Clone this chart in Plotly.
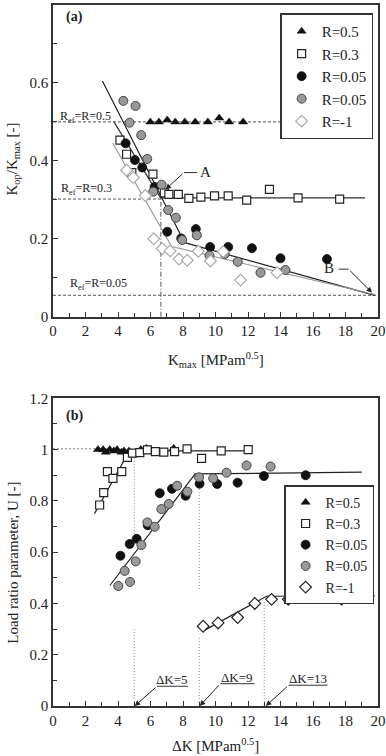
import plotly.graph_objects as go

# ---------------- data: panel (a) ----------------
a_r05_x = [5.99, 6.52, 7.03, 7.52, 8.11, 8.75, 9.53, 10.23, 10.84, 11.7]
a_r05_y = [0.50, 0.50, 0.505, 0.50, 0.50, 0.50, 0.50, 0.51, 0.50, 0.50]

a_r03_x = [4.12, 4.53, 4.85, 6.15, 6.85, 7.13, 7.71, 8.36, 9.10, 9.94, 10.78, 11.92, 13.32, 15.08, 17.64]
a_r03_y = [0.453, 0.417, 0.37, 0.366, 0.318, 0.314, 0.314, 0.304, 0.307, 0.31, 0.31, 0.299, 0.327, 0.305, 0.302]

a_r005b_x = [4.47, 5.04, 5.49, 6.25, 7.03, 7.89, 8.79, 9.67, 10.78, 12.24, 14.0, 16.86]
a_r005b_y = [0.445, 0.402, 0.383, 0.333, 0.218, 0.201, 0.225, 0.179, 0.179, 0.176, 0.150, 0.148]

a_r005g_x = [4.33, 4.71, 5.08, 5.43, 5.80, 6.17, 6.68, 7.09, 7.56, 7.95, 8.85, 9.63, 10.57, 11.37, 12.77, 14.3]
a_r005g_y = [0.554, 0.498, 0.541, 0.466, 0.405, 0.321, 0.339, 0.274, 0.254, 0.197, 0.209, 0.157, 0.161, 0.141, 0.113, 0.12]

a_rm1_x = [4.53, 4.94, 5.68, 6.20, 6.72, 7.21, 7.75, 8.26, 8.94, 9.69, 10.47, 11.54, 13.79]
a_rm1_y = [0.376, 0.357, 0.311, 0.200, 0.175, 0.169, 0.148, 0.145, 0.168, 0.143, 0.167, 0.094, 0.113]

# fitted lines (a)
a_fit_r03_x = [3.75, 6.62, 19.2]
a_fit_r03_y = [0.50, 0.305, 0.305]
a_fit_r005_x = [3.04, 8.1, 19.8]
a_fit_r005_y = [0.605, 0.19, 0.055]
a_fit_rm1_x = [3.67, 7.3, 19.8]
a_fit_rm1_y = [0.446, 0.18, 0.057]

# reference lines (a)
a_ref05_x = [0, 14.0]
a_ref05_y = [0.5, 0.5]
a_ref03_x = [0, 6.62]
a_ref03_y = [0.302, 0.302]
a_ref005_x = [0, 20]
a_ref005_y = [0.055, 0.055]
a_vert_x = [6.64, 6.64]
a_vert_y = [0, 0.325]

# ---------------- data: panel (b) ----------------
b_r05_x = [2.77, 3.08, 3.25, 3.49, 3.74, 3.94, 4.21, 4.37, 4.68, 5.40, 5.75, 7.43]
b_r05_y = [1.0, 1.0, 0.99, 1.0, 0.995, 1.0, 0.99, 0.995, 0.995, 1.0, 1.005, 1.005]

b_r03_x = [2.87, 3.12, 3.35, 3.69, 4.23, 4.58, 4.89, 5.34, 5.81, 6.30, 6.82, 7.48, 8.25, 9.14, 10.35, 12.01]
b_r03_y = [0.784, 0.832, 0.914, 0.888, 0.914, 0.97, 0.986, 0.988, 0.999, 0.992, 0.99, 0.992, 1.003, 0.966, 0.995, 1.0]

b_r005b_x = [4.15, 4.72, 5.15, 5.83, 6.57, 7.32, 8.16, 9.02, 10.1, 11.36, 12.98, 15.55]
b_r005b_y = [0.586, 0.632, 0.652, 0.705, 0.83, 0.847, 0.82, 0.867, 0.866, 0.871, 0.897, 0.90]

b_r005g_x = [4.02, 4.41, 4.74, 5.09, 5.44, 5.81, 6.26, 6.67, 7.12, 7.64, 8.27, 8.99, 9.86, 10.68, 11.91, 13.39]
b_r005g_y = [0.468, 0.527, 0.484, 0.564, 0.628, 0.716, 0.699, 0.768, 0.788, 0.859, 0.836, 0.892, 0.888, 0.91, 0.938, 0.934]

b_rm1_x = [9.24, 10.16, 11.36, 12.42, 13.45, 14.48, 15.44, 16.47, 17.76, 19.4]
b_rm1_y = [0.311, 0.324, 0.345, 0.40, 0.416, 0.416, 0.428, 0.43, 0.417, 0.43]

# fitted lines (b)
b_fit_r03_x = [2.55, 4.7, 11.9]
b_fit_r03_y = [0.75, 0.995, 0.995]
b_fit_r005_x = [3.5, 8.75, 19.0]
b_fit_r005_y = [0.47, 0.905, 0.912]
b_fit_rm1_x = [9.34, 13.14, 19.1]
b_fit_rm1_y = [0.296, 0.428, 0.43]

# reference lines (b)
b_ref1_x = [0, 2.7]
b_ref1_y = [1.003, 1.003]
b_v5a_y = [0.98, 0.655]
b_v5b_y = [0.30, 0.0]
b_v9a_y = [0.87, 0.455]
b_v9b_y = [0.265, 0.0]
b_v13_y = [0.405, 0.0]

SERIF = "Liberation Serif"
fig = go.Figure()

def line(x, y, xa, ya, color="#222", width=1.2, dash="solid"):
    fig.add_trace(go.Scatter(x=x, y=y, mode="lines", xaxis=xa, yaxis=ya,
                             line=dict(color=color, width=width, dash=dash),
                             showlegend=False, hoverinfo="skip"))

# ---- panel (a) lines ----
line(a_ref05_x, a_ref05_y, "x", "y", "#555", 1, "3px,2px")
line(a_ref03_x, a_ref03_y, "x", "y", "#555", 1, "3px,2px")
line(a_ref005_x, a_ref005_y, "x", "y", "#555", 1, "3px,2px")
line(a_vert_x, a_vert_y, "x", "y", "#555", 1, "5px,2px,1px,2px")
line(a_fit_r03_x, a_fit_r03_y, "x", "y", "#333", 1.2)
line(a_fit_r005_x, a_fit_r005_y, "x", "y", "#222", 1.2)
line(a_fit_rm1_x, a_fit_rm1_y, "x", "y", "#999", 1.2)

# ---- panel (b) lines ----
line(b_ref1_x, b_ref1_y, "x2", "y2", "#777", 1, "2px,2px")
line([5, 5], b_v5a_y, "x2", "y2", "#888", 1, "1px,2px")
line([5, 5], b_v5b_y, "x2", "y2", "#888", 1, "1px,2px")
line([9, 9], b_v9a_y, "x2", "y2", "#888", 1, "1px,2px")
line([9, 9], b_v9b_y, "x2", "y2", "#888", 1, "1px,2px")
line([13, 13], b_v13_y, "x2", "y2", "#888", 1, "1px,2px")
line(b_fit_r03_x, b_fit_r03_y, "x2", "y2", "#222", 1.2)
line(b_fit_r005_x, b_fit_r005_y, "x2", "y2", "#222", 1.2)
line(b_fit_rm1_x, b_fit_rm1_y, "x2", "y2", "#222", 1.2)

# ---- markers ----
def pts(x, y, xa, ya, name, symbol, fill, edge, size, lw, legend, show=True):
    fig.add_trace(go.Scatter(x=x, y=y, mode="markers", xaxis=xa, yaxis=ya, name=name,
                             marker=dict(symbol=symbol, color=fill, size=size,
                                         line=dict(color=edge, width=lw)),
                             legend=legend, showlegend=show))

pts(a_r05_x, a_r05_y, "x", "y", "R=0.5", "triangle-up", "#111", "#111", 8, 0.5, "legend")
pts(a_r03_x, a_r03_y, "x", "y", "R=0.3", "square", "white", "#222", 8, 1.2, "legend")
pts(a_r005b_x, a_r005b_y, "x", "y", "R=0.05", "circle", "#111", "#111", 9, 0.8, "legend")
pts(a_r005g_x, a_r005g_y, "x", "y", "R=0.05", "circle", "#999", "#444", 9, 1.0, "legend")
pts(a_rm1_x, a_rm1_y, "x", "y", "R=-1", "diamond", "white", "#aaa", 9, 1.2, "legend")

pts(b_r05_x, b_r05_y, "x2", "y2", "R=0.5", "triangle-up", "#111", "#111", 8, 0.5, "legend2")
pts(b_r03_x, b_r03_y, "x2", "y2", "R=0.3", "square", "white", "#222", 8, 1.2, "legend2")
pts(b_r005b_x, b_r005b_y, "x2", "y2", "R=0.05", "circle", "#111", "#111", 9, 0.8, "legend2")
pts(b_r005g_x, b_r005g_y, "x2", "y2", "R=0.05", "circle", "#999", "#444", 9, 1.0, "legend2")
pts(b_rm1_x, b_rm1_y, "x2", "y2", "R=-1", "diamond", "white", "#222", 9, 1.2, "legend2")

# leader segments (horizontal parts / underlines)
line([8.06, 8.87], [0.37, 0.37], "x", "y", "#333", 1)
line([17.58, 18.19], [0.122, 0.122], "x", "y", "#333", 1)
line([6.4, 8.3], [0.077, 0.077], "x2", "y2", "#333", 1)
line([10.3, 12.4], [0.087, 0.087], "x2", "y2", "#333", 1)
line([14.5, 16.9], [0.081, 0.081], "x2", "y2", "#333", 1)

axis_common = dict(showline=True, linecolor="#333", linewidth=1.5, mirror=True, automargin=False,
                   ticks="inside", ticklen=5, tickcolor="#333", showgrid=False, zeroline=False,
                   tickfont=dict(family=SERIF, size=15, color="#222"))

fig.update_layout(
    width=386, height=756,
    margin=dict(l=52.5, r=8, t=5, b=50),
    plot_bgcolor="white", paper_bgcolor="white",
    font=dict(family=SERIF, size=15, color="#222"),
    xaxis=dict(domain=[0, 1], range=[0, 20], dtick=2, anchor="y",
               minor=dict(dtick=1, ticks="inside", ticklen=4, tickcolor="#333"),
               **axis_common),
    yaxis=dict(domain=[0.5553, 1], range=[0, 0.8], anchor="x",
               tickvals=[0, 0.2, 0.4, 0.6, 0.8], ticktext=["0", "0.2", "0.4", "0.6", "0.8"],
               minor=dict(dtick=0.1, ticks="inside", ticklen=4, tickcolor="#333"),
               **axis_common),
    xaxis2=dict(domain=[0, 1], range=[0, 20], dtick=2, anchor="y2",
                minor=dict(dtick=1, ticks="inside", ticklen=4, tickcolor="#333"),
                **axis_common),
    yaxis2=dict(domain=[0, 0.4389], range=[0, 1.2], anchor="x2",
                tickvals=[0, 0.2, 0.4, 0.6, 0.8, 1.0, 1.2], ticktext=["0", "0.2", "0.4", "0.6", "0.8", "1", "1.2"],
                minor=dict(dtick=0.1, ticks="inside", ticklen=4, tickcolor="#333"),
                **axis_common),
    legend=dict(x=0.985, y=0.988, xanchor="right", yanchor="top", bgcolor="white",
                bordercolor="#333", borderwidth=1.5, font=dict(family=SERIF, size=15),
                itemwidth=30, tracegroupgap=0),
    legend2=dict(x=0.988, y=0.315, xanchor="right", yanchor="top", bgcolor="white",
                 bordercolor="#333", borderwidth=1.5, font=dict(family=SERIF, size=14),
                 itemwidth=30, tracegroupgap=0),
)

ann = []
def txt(x, y, t, xr, yr, size=13, bold=False, xanchor="center", angle=0):
    ann.append(dict(x=x, y=y, xref=xr, yref=yr, text=("<b>%s</b>" % t) if bold else t,
                    showarrow=False, xanchor=xanchor, yanchor="middle", textangle=angle,
                    font=dict(family=SERIF, size=size, color="#222")))

def arrow(x, y, ax, ay, xr, yr):
    ann.append(dict(x=x, y=y, ax=ax, ay=ay, xref=xr, yref=yr, axref=xr, ayref=yr,
                    text="", showarrow=True, arrowhead=2, arrowsize=1.1, arrowwidth=1,
                    arrowcolor="#222", standoff=0, startstandoff=0))

# axis titles
txt(0.5, 0.4936, "K<sub>max</sub> [MPam<sup>0.5</sup>]", "paper", "paper", 15)
txt(0.5, -0.055, "ΔK [MPam<sup>0.5</sup>]", "paper", "paper", 15)
txt(-0.122, 0.78, "K<sub>op</sub>/K<sub>max</sub> [-]", "paper", "paper", 15, angle=-90)
txt(-0.122, 0.205, "Load ratio parameter, U [-]", "paper", "paper", 15, angle=-90)

txt(0.65, 0.768, "(a)", "x", "y", 14, True, "left")
txt(0.3, 0.513, "R<sub>ef</sub>=R=0.5", "x", "y", 12, False, "left")
txt(0.35, 0.327, "R<sub>ef</sub>=R=0.3", "x", "y", 12, False, "left")
txt(0.95, 0.084, "R<sub>ef</sub>=R=0.05", "x", "y", 12, False, "left")
txt(9.4, 0.372, "A", "x", "y", 15)
txt(16.97, 0.124, "B", "x", "y", 15)
arrow(6.93, 0.327, 8.06, 0.37, "x", "y")
arrow(19.63, 0.062, 18.19, 0.122, "x", "y")

txt(0.65, 1.13, "(b)", "x2", "y2", 14, True, "left")
txt(7.35, 0.105, "ΔK=5", "x2", "y2", 13)
txt(11.35, 0.112, "ΔK=9", "x2", "y2", 13)
txt(15.7, 0.107, "ΔK=13", "x2", "y2", 13)
arrow(5.03, 0.0, 6.4, 0.077, "x2", "y2")
arrow(9.03, 0.0, 10.3, 0.087, "x2", "y2")
arrow(13.1, 0.0, 14.5, 0.081, "x2", "y2")

fig.update_layout(annotations=ann)
fig.write_html("out.html", config={"displayModeBar": False},
               post_script="document.body.style.margin='0';document.body.style.padding='0';"
                           "document.body.style.overflow='hidden';")
